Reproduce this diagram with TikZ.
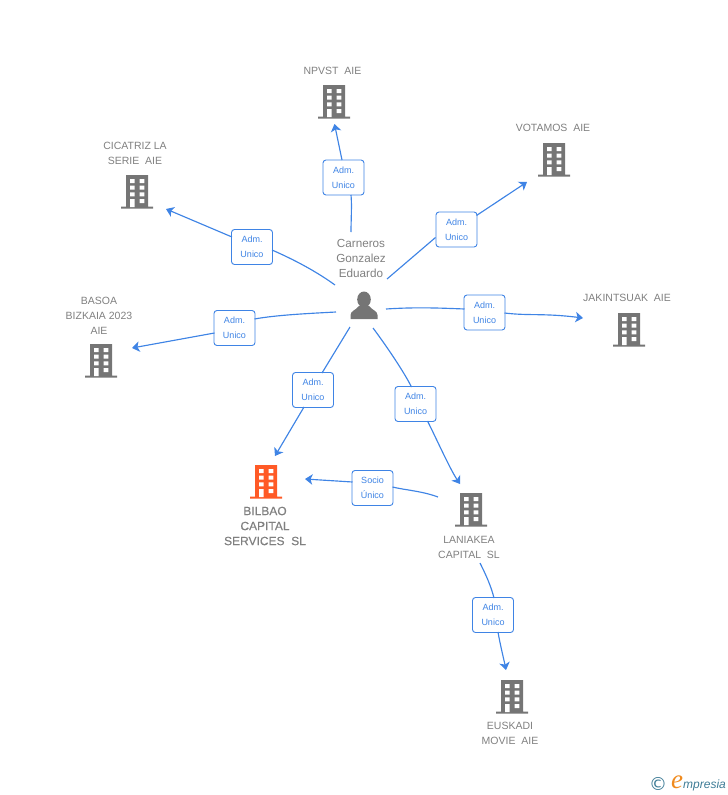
\documentclass[tikz,border=0pt]{standalone}
\usepackage{fontspec}
\setmainfont{Liberation Sans}
\newfontfamily\logofont{DejaVu Sans}
\newfontfamily\efont{Liberation Serif}
\newfontfamily\fakebold[FakeBold=0.35]{Liberation Sans}
\usetikzlibrary{arrows.meta}
\definecolor{lnk}{HTML}{3F84E5}
\definecolor{txt}{HTML}{808080}
\definecolor{bgrey}{HTML}{757575}
\definecolor{borange}{HTML}{FF5A26}
\definecolor{teal}{HTML}{3E7C96}
\definecolor{eor}{HTML}{F08A1D}
\tikzset{
  bldg/.style={minimum width=32pt,minimum height=34pt,inner sep=0pt,outer sep=0pt,
    path picture={
      \begin{scope}[shift={(path picture bounding box.center)}]
        \fill[#1] (-11,-17) rectangle (11,15) (-16,14.6) rectangle (16,16.6);
        \fill[white] (-7,-13) rectangle (-2.5,-9) (2.7,-13) rectangle (7.3,-9)
          (-7,-6.3) rectangle (-2.5,-2.3) (2.7,-6.3) rectangle (7.3,-2.3)
          (-7,0.3) rectangle (-2.5,4.3) (2.7,0.3) rectangle (7.3,4.3)
          (-7,7) rectangle (-2.5,15) (2.7,7) rectangle (7.3,11);
      \end{scope}}},
  lab/.style={draw=lnk,line width=0.9pt,rounded corners=3pt,fill=white,minimum width=41pt,minimum height=35pt,
    inner sep=0pt,align=center,text=lnk,font=\fontsize{9}{15}\selectfont},
  captext/.style={text=txt,align=center,inner sep=0pt,font=\fontsize{10.5}{15}\selectfont},
  link/.style={draw=lnk,line width=1.15pt},
  linka/.style={link,-{Stealth[length=7.5pt,width=10.5pt,inset=2pt]}},
  persn/.style={minimum width=30pt,minimum height=30pt,inner sep=0pt,
    path picture={
      \begin{scope}[shift={(path picture bounding box.center)}]
        \fill[bgrey] (0,-6.5) ellipse (6.8 and 8);
        \fill[bgrey] (-13.5,13) -- (-13.5,9) .. controls (-13.5,5) and (-8,4) .. (-5,0) -- (5,0) .. controls (8,4) and (13.5,5) .. (13.5,9) -- (13.5,13) -- cycle;
      \end{scope}}}
}
\begin{document}
\begin{tikzpicture}[x=1pt,y=-1pt]
\useasboundingbox (0,0) rectangle (728,795);
% nodes
\node[persn] (per) at (364,306) {};
\node[captext,text width=70pt,font=\fontsize{11.7}{15}\selectfont] (pert) at (361,258) {Carneros\\Gonzalez\\Eduardo};
\node[bldg=bgrey] (npv) at (334,102) {};
\node[bldg=bgrey] (vot) at (554,160) {};
\node[bldg=bgrey] (cic) at (137,192) {};
\node[bldg=bgrey] (bas) at (101,361) {};
\node[bldg=bgrey] (jak) at (629,330) {};
\node[bldg=borange] (bil) at (266,482) {};
\node[bldg=bgrey] (lan) at (471,510) {};
\node[bldg=bgrey] (eus) at (512,697) {};
\node[captext] (npvt) at (332.5,71) {NPVST\ \ AIE};
\node[captext] (vott) at (553,128) {VOTAMOS\ \ AIE};
\node[captext] (cict) at (135,153) {CICATRIZ LA\\SERIE\ \ AIE};
\node[captext] (bast) at (99,316) {BASOA\\BIZKAIA 2023\\AIE};
\node[captext] (jakt) at (627,298) {JAKINTSUAK\ \ AIE};
\node[captext,font=\fakebold\fontsize{12}{15}\selectfont] (bilt) at (265,526) {BILBAO\\CAPITAL\\SERVICES\ \ SL};
\node[captext] (lant) at (469,547) {LANIAKEA\\CAPITAL\ \ SL};
\node[captext] (eust) at (510,733) {EUSKADI\\MOVIE\ \ AIE};
% labels
\node[lab] (l1) at (343.5,177.5) {Adm.\\Unico};
\node[lab] (l2) at (456.5,229.5) {Adm.\\Unico};
\node[lab] (l3) at (252,247) {Adm.\\Unico};
\node[lab] (l4) at (234.5,328) {Adm.\\Unico};
\node[lab] (l5) at (484.5,312.5) {Adm.\\Unico};
\node[lab] (l6) at (313,390) {Adm.\\Unico};
\node[lab] (l7) at (415.5,404) {Adm.\\Unico};
\node[lab] (l8) at (372.5,488) {Socio\\Único};
\node[lab] (l9) at (493,615) {Adm.\\Unico};
% connectors
\draw[link] ([shift={(-13,-74)}]per.center) .. controls +(0,-12) and +(1,10) .. ([shift={(7.5,17.5)}]l1.center);
\draw[linka] ([shift={(-1.5,-17.5)}]l1.center) -- ([shift={(0.5,22)}]npv.center);
\draw[link] ([shift={(23,-27)}]per.center) -- ([shift={(-21,8)}]l2.center);
\draw[linka] ([shift={(20,-14)}]l2.center) -- ([shift={(-27,22)}]vot.center);
\draw[link] ([shift={(-29,-21)}]per.center) .. controls +(-22,-16) and +(16,7) .. ([shift={(20,3)}]l3.center);
\draw[linka] ([shift={(-20,-10)}]l3.center) -- ([shift={(29,17)}]cic.center);
\draw[link] ([shift={(-28,6)}]per.center) .. controls +(-28,1.5) and +(22,-4) .. ([shift={(20,-9)}]l4.center);
\draw[linka] ([shift={(-20,5)}]l4.center) -- ([shift={(31,-13)}]bas.center);
\draw[link] ([shift={(22,3)}]per.center) .. controls +(30,-2) and +(-25,-1) .. ([shift={(-20,-3.5)}]l5.center);
\draw[linka] ([shift={(20,0.5)}]l5.center) .. controls +(25,3) and +(-40,-5) .. ([shift={(-46,-12)}]jak.center);
\draw[link] ([shift={(-14,21)}]per.center) -- ([shift={(9,-17)}]l6.center);
\draw[linka] ([shift={(-9,17)}]l6.center) -- ([shift={(9,-26)}]bil.center);
\draw[link] ([shift={(9,22)}]per.center) .. controls +(12,16) and +(-8,-16) .. ([shift={(-4,-17)}]l7.center);
\draw[linka] ([shift={(12,17)}]l7.center) .. controls +(10,20) and +(-10,-15) .. ([shift={(-11,-26)}]lan.center);
\draw[link] ([shift={(-33,-13)}]lan.center) .. controls +(-16,-6) and +(12,3) .. ([shift={(20,-1)}]l8.center);
\draw[linka] ([shift={(-20,-6)}]l8.center) -- ([shift={(39,-3)}]bil.center);
\draw[link] ([shift={(9,53)}]lan.center) .. controls +(6,12) and +(-3,-12) .. ([shift={(1,-17)}]l9.center);
\draw[linka] ([shift={(5,17)}]l9.center) .. controls +(2,12) and +(-2,-10) .. ([shift={(-6,-27)}]eus.center);
% logo
\node[inner sep=0pt,text=teal,font=\logofont\fontsize{18}{18}\selectfont] (cr) at (658,784) {©};
\node[inner sep=0pt,text=eor,font=\efont\itshape\fontsize{27}{27}\selectfont] (le) at (677,782) {e};
\node[inner sep=0pt,anchor=west,text=teal,font=\itshape\fontsize{12}{12}\selectfont] (lm) at (683,785) {mpresia};
\end{tikzpicture}
\end{document}
